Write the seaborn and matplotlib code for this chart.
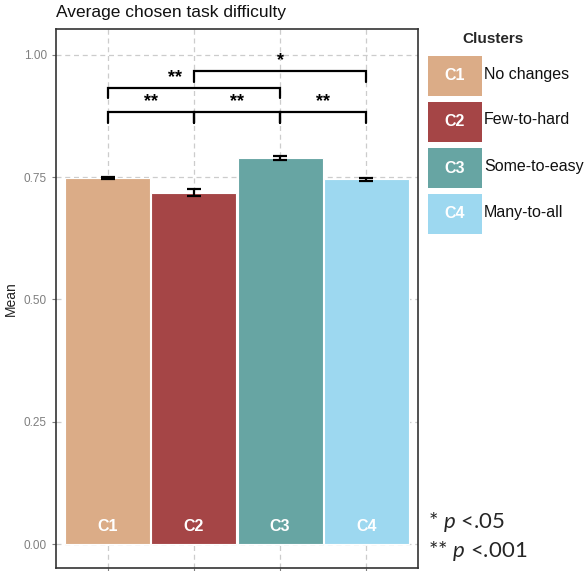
import matplotlib
matplotlib.use("Agg")
import matplotlib.pyplot as plt
import seaborn as sns
import pandas as pd
import numpy as np
from matplotlib.patches import Rectangle

clusters = ["C1", "C2", "C3", "C4"]
names = ["No changes", "Few-to-hard", "Some-to-easy", "Many-to-all"]
means = [0.749, 0.718, 0.789, 0.746]
errors = [0.002, 0.007, 0.004, 0.003]
colors = ["#DBAC87", "#A54546", "#67A5A3", "#9DD8F0"]
# significance brackets: (start index, end index, level y, label, label x)
brackets = [(0, 1, 0.883, "**", 0.5), (1, 2, 0.883, "**", 1.5), (2, 3, 0.883, "**", 2.5),
            (0, 2, 0.933, "**", 0.78), (1, 3, 0.967, "*", 2.0)]
yticks = [0.00, 0.25, 0.50, 0.75, 1.00]

sns.set_style("white")
plt.rcParams["font.family"] = ["Liberation Sans", "DejaVu Sans"]
plt.rcParams["mathtext.fontset"] = "custom"
plt.rcParams["mathtext.it"] = "Lato:italic"
plt.rcParams["mathtext.rm"] = "Lato"

df = pd.DataFrame({"cluster": clusters, "mean": means})

fig = plt.figure(figsize=(5.84, 5.71), dpi=100)
ax = fig.add_axes([56 / 584, 1 - 568 / 571, (418 - 56) / 584, (568 - 29) / 571])

sns.barplot(data=df, x="cluster", y="mean", hue="cluster", palette=colors,
            saturation=1, width=0.985, edgecolor="white", linewidth=0.8, legend=False,
            errorbar=None, ax=ax, zorder=2)
ax.errorbar(range(len(clusters)), means, yerr=errors, fmt="none", ecolor="black",
            elinewidth=1.6, capsize=5, capthick=1.6, zorder=3)

for i, c in enumerate(clusters):
    ax.text(i, 0.035, c, ha="center", va="center", color="white",
            fontsize=11.5, fontweight="bold", zorder=4)

tick_h = 0.022
for a, b, y, lab, lx in brackets:
    ax.plot([a, a, b, b], [y - tick_h, y, y, y - tick_h], color="black", lw=1.6,
            zorder=4, solid_joinstyle="miter")
    ax.text(lx, y + 0.004, lab, ha="center", va="bottom", fontsize=13,
            fontweight="bold", color="black", zorder=4)

ax.set_xlim(-0.6, 3.6)
ax.set_ylim(-0.049, 1.053)
ax.set_yticks(yticks)
ax.set_yticklabels([f"{v:.2f}" for v in yticks])
ax.set_xticks(range(len(clusters)))
ax.set_xticklabels([])
ax.set_xlabel("")
ax.set_ylabel("Mean", fontsize=10, color="#222222")
ax.tick_params(axis="y", labelsize=8.5, labelcolor="#7F7F7F", color="#7F7F7F",
               length=3, width=0.8, left=True)
ax.tick_params(axis="x", length=3, color="#7F7F7F", width=0.8, bottom=True)
ax.grid(True, color="#CCCCCC", linestyle=(0, (4, 3)), linewidth=0.9, zorder=0)
ax.set_axisbelow(True)
for s in ax.spines.values():
    s.set_color("#333333")
    s.set_linewidth(1.2)

fig.text(56 / 584, 1 - 13 / 571, "Average chosen task difficulty", ha="left",
         va="center", fontsize=12.5, color="#111111")

# legend
fig.text(493 / 584, 1 - 39 / 571, "Clusters", ha="center", va="center",
         fontsize=11, fontweight="bold")
key_x0, key_w, key_h = 428, 54, 40
key_tops = [56, 102, 148, 194]
for c, n, col, top in zip(clusters, names, colors, key_tops):
    fig.patches.append(Rectangle((key_x0 / 584, 1 - (top + key_h) / 571),
                                 key_w / 584, key_h / 571, transform=fig.transFigure,
                                 facecolor=col, edgecolor="none"))
    fig.text((key_x0 + key_w / 2) / 584, 1 - (top + key_h / 2) / 571, c,
             ha="center", va="center", color="white", fontsize=11.5, fontweight="bold")
    fig.text((key_x0 + key_w + 2) / 584, 1 - (top + key_h / 2 - 2) / 571, n,
             ha="left", va="center", fontsize=11.5, color="#111111")

# footnote
fam = ["Lato", "DejaVu Sans"]
fig.text(428 / 584, 1 - 522 / 571, "* $\\it{p}$ <.05", ha="left", va="center",
         fontsize=16, family=fam)
fig.text(428 / 584, 1 - 551 / 571, "** $\\it{p}$ <.001", ha="left", va="center",
         fontsize=16, family=fam)

fig.savefig("out.png", dpi=100)
